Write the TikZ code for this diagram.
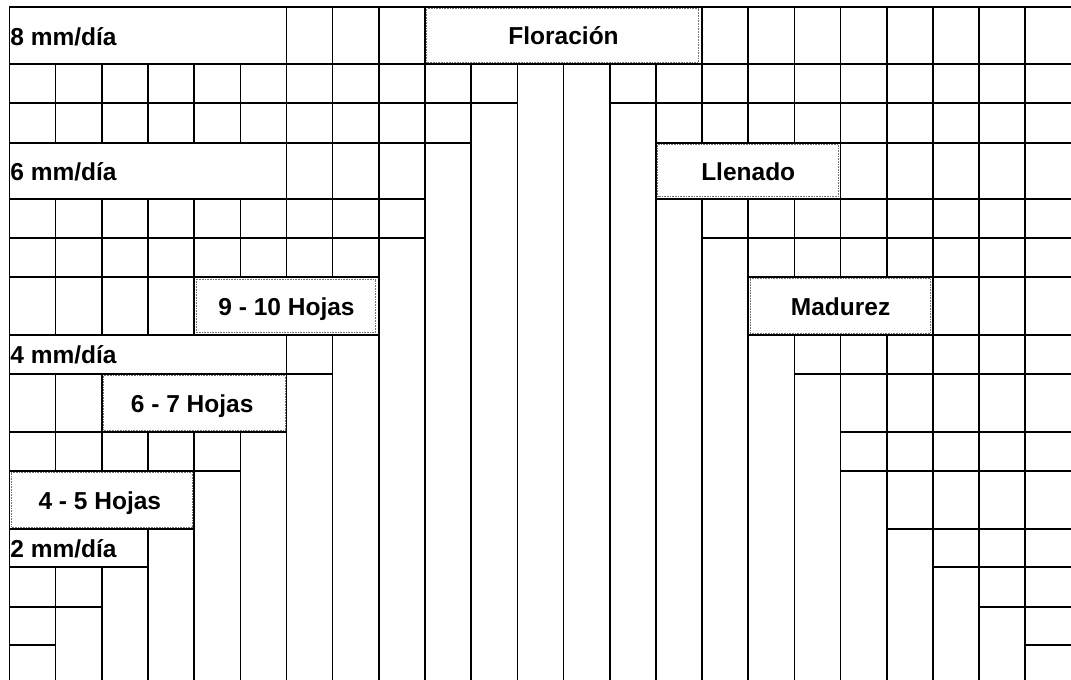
\documentclass[tikz,border=0pt]{standalone}
\usepackage{fontspec}
\setmainfont{Liberation Sans}
\usetikzlibrary{fit,calc}
\begin{document}
\begin{tikzpicture}[x=1pt,y=-1pt,
  grid/.style={line width=1.6pt, line cap=rect},
  stagebox/.style={draw, line width=1.6pt, fill=white, inner sep=0pt},
  lbl/.style={font=\fontsize{24.5}{29}\selectfont\bfseries, inner sep=0pt},
  inframe/.style={draw=black!55, line width=0.6pt, densely dotted}]
\useasboundingbox (0,0) rectangle (1071,680);
\clip (0,0) rectangle (1071,680);
% grid coordinates
\foreach \i/\yy in {0/7,1/64,2/103,3/143,4/199,5/238,6/277,7/335,8/374,9/432,10/471,11/529,12/567,13/607,14/645,15/686}{
  \foreach \k in {0,...,23}{
    \coordinate (p\k-\i) at ({9.5+46.17*\k},\yy);
  }
}
% vertical lines
\foreach \k in {0,...,22}{\draw[grid] (p\k-0) -- (p\k-15);}
% horizontal lines
\draw[grid] (p0-0) -- (p23-0);
\draw[grid] (p0-1) -- (p23-1);
\foreach \i/\a/\b in {2/11/13,3/10/14,4/9/14,5/9/15,6/8/16,7/8/16,8/7/17,9/6/18,10/5/18,11/4/19,12/3/20,13/2/21,14/1/22}{
  \draw[grid] (p0-\i) -- (p\a-\i);
  \draw[grid] (p\b-\i) -- (p23-\i);
}
% rate boxes
\node[stagebox, fit=(p0-0)(p6-1)] (b8) {};
\node[lbl, anchor=base west] (t8) at ($(b8.west)+(1.5,9.5)$) {8 mm/día};
\node[stagebox, fit=(p0-3)(p6-4)] (b6) {};
\node[lbl, anchor=base west] (t6) at ($(b6.west)+(1.5,9)$) {6 mm/día};
\node[stagebox, fit=(p0-7)(p6-8)] (b4) {};
\node[lbl, anchor=base west] (t4) at ($(b4.west)+(1.5,8.5)$) {4 mm/día};
\node[stagebox, fit=(p0-11)(p3-12)] (b2) {};
\node[lbl, anchor=base west] (t2) at ($(b2.west)+(1.5,9)$) {2 mm/día};
% stage boxes
\node[stagebox, fit=(p9-0)(p15-1)] (bflo) {};
\draw[inframe] ($(bflo.north west)+(2.5,2.5)$) rectangle ($(bflo.south east)+(-4.5,-3)$);
\node[lbl, anchor=base] (tflo) at ($(bflo.center)+(0,9)$) {Floración};
\node[stagebox, fit=(p14-3)(p18-4)] (blle) {};
\draw[inframe] ($(blle.north west)+(2.5,2.5)$) rectangle ($(blle.south east)+(-3,-3.5)$);
\node[lbl, anchor=base] (tlle) at ($(blle.center)+(0,9)$) {Llenado};
\node[stagebox, fit=(p16-6)(p20-7)] (bmad) {};
\draw[inframe] ($(bmad.north west)+(2.5,2.5)$) rectangle ($(bmad.south east)+(-3,-3)$);
\node[lbl, anchor=base] (tmad) at ($(bmad.center)+(0,9)$) {Madurez};
\node[stagebox, fit=(p4-6)(p8-7)] (b910) {};
\draw[inframe] ($(b910.north west)+(2.5,3)$) rectangle ($(b910.south east)+(-4,-3.5)$);
\node[lbl, anchor=base] (t910) at ($(b910.center)+(0,9)$) {9 - 10 Hojas};
\node[stagebox, fit=(p2-8)(p6-9)] (b67) {};
\draw[inframe] ($(b67.north west)+(2.5,2.5)$) rectangle ($(b67.south east)+(-2.5,-3)$);
\node[lbl, anchor=base] (t67) at ($(b67.center)+(-2,9)$) {6 - 7 Hojas};
\node[stagebox, fit=(p0-10)(p4-11)] (b45) {};
\draw[inframe] ($(b45.north west)+(2.5,2.5)$) rectangle ($(b45.south east)+(-2.5,-3)$);
\node[lbl, anchor=base] (t45) at ($(b45.center)+(-2,9)$) {4 - 5 Hojas};
\end{tikzpicture}
\end{document}
